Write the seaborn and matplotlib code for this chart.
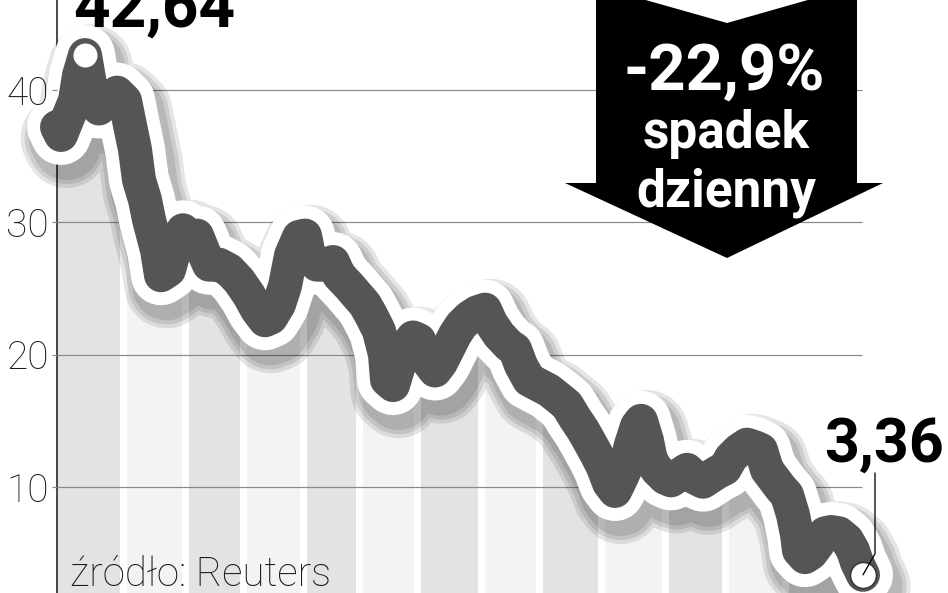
import matplotlib
matplotlib.use('Agg')
import matplotlib.pyplot as plt
import matplotlib.patheffects as pe
from matplotlib.patches import Polygon, Rectangle
import pandas as pd
import seaborn as sns


# trading day (from start of chart) and share price
days = [0, 2, 6, 9, 11, 14, 17, 21, 25, 30,
        34, 36, 39, 41, 44, 46, 50, 52, 56, 60,
        63, 66, 70, 74, 76, 81, 86, 91, 96, 100,
        104, 107, 111, 114, 117, 121, 124, 126, 130, 134,
        138, 141, 146, 150, 154, 157, 161, 164, 165, 168,
        171, 175, 178, 181, 185, 189, 192, 195, 199, 202,
        206, 210, 214, 217, 221, 226, 229, 232, 236, 241,
        246, 251, 255, 259, 263, 266, 270, 273, 276, 279,
        281, 284, 287, 290, 292, 295, 297, 300, 304, 307,
        311, 315, 319, 323, 326, 330, 334, 337, 341, 345,
        349, 352, 355, 359, 362, 365, 368, 370, 371, 374,
        377, 380, 384, 387, 391, 395, 398, 400, 403]
price = [37.2, 36.6, 38.1, 39.2, 41.1, 42.64, 40.0, 38.6, 39.2, 39.8,
         39.2, 37.7, 35.5, 33.2, 31.7, 30.2, 27.9, 26.0, 26.4, 28.6,
         29.4, 28.3, 29.0, 27.5, 26.8, 26.8, 26.4, 25.6, 24.5, 23.4,
         22.6, 22.8, 23.8, 25.2, 27.5, 28.9, 29.0, 27.5, 26.8, 26.8,
         27.0, 26.0, 25.2, 24.5, 23.8, 23.0, 21.8, 20.0, 18.1, 17.7,
         19.2, 20.7, 21.3, 21.1, 19.6, 18.8, 19.4, 20.3, 21.5, 22.2,
         22.8, 23.2, 23.4, 22.4, 21.5, 20.7, 20.4, 19.2, 18.1, 17.7,
         17.3, 16.7, 16.2, 15.2, 14.3, 13.5, 12.4, 11.5, 10.3, 9.7,
         10.3, 11.3, 13.2, 14.6, 15.0, 13.5, 12.0, 11.3, 10.7, 10.5,
         10.9, 11.3, 10.7, 10.4, 10.7, 11.1, 11.4, 12.2, 12.8, 13.2,
         13.0, 12.8, 11.3, 10.5, 9.9, 9.4, 7.9, 6.4, 5.2, 4.7,
         5.0, 5.6, 6.5, 6.6, 6.5, 6.0, 5.2, 4.3, 3.36]

# month boundaries (trading day) for the shaded bands
month_edges = [33, 64, 93, 123, 151, 180, 212, 241, 272, 304, 334, 364, 394]
yticks = [10, 20, 30, 40]
drop_lines = ['-22,9%', 'spadek', 'dzienny']
source = 'źródło: Reuters'

W, H = 948, 593
PT = 0.72  # pixels -> points at dpi 100

sns.set_theme(style='white')
plt.rcParams['font.family'] = ['Roboto', 'DejaVu Sans']

df = pd.DataFrame({'day': days, 'price': price})

fig = plt.figure(figsize=(W / 100, H / 100), dpi=100)
ax = fig.add_axes([57 / W, 0, 1 - 57 / W, 1])
ax.set_xlim(0, 445.5)
ax.set_ylim(1.99, 46.8)

# monthly bands filled under the curve
edges = [0] + month_edges + [days[-1] + 2]
for i in range(len(edges) - 1):
    a = edges[i] + (2 if i > 0 else 0)
    b = edges[i + 1] - 2
    band = ax.fill_between(df.day, 0, df.price, color=['#e3e3e3', '#f3f3f3'][i % 2],
                           lw=0, zorder=1)
    band.set_clip_path(Rectangle((a, 0), b - a, 60, transform=ax.transData))

ax.hlines(yticks, 0, days[-1] - 0.5, color='#8a8a8a', lw=1.2 * PT, zorder=2)

shadow = [pe.SimpleLineShadow(offset=(4, -8), shadow_color='black', alpha=0.1,
                              linewidth=w * PT) for w in (84, 76, 68)]
fx = shadow + [pe.Stroke(linewidth=60 * PT, foreground='white'), pe.Normal()]
sns.lineplot(data=df, x='day', y='price', color='#555555', linewidth=34 * PT, ax=ax,
             sort=False, estimator=None, legend=False, zorder=3, clip_on=False,
             solid_capstyle='round', solid_joinstyle='round', path_effects=fx)

peak = df.loc[df.price.idxmax()]
last = df.iloc[-1]
fmt = lambda v: f'{v:.2f}'.replace('.', ',')

ax.plot(peak.day, peak.price, 'o', ms=24 * PT, mfc='white', mew=0, zorder=4, clip_on=False)
ax.plot(last.day, last.price, 'o', ms=26 * PT, mfc='white', mec='#333333',
        mew=1.5 * PT, zorder=4, clip_on=False)
ax.plot([last.day, last.day + 6, last.day + 6],
        [last.price, last.price + 1.6, last.price + 7.7],
        color='black', lw=1.3 * PT, zorder=5, clip_on=False)

ax.set_xlabel('')
ax.set_ylabel('')
ax.set_xticks([])
ax.set_yticks(yticks)
ax.set_yticklabels([str(t) for t in yticks], fontsize=28, fontweight='light', color='#1a1a1a')
ax.tick_params(axis='y', left=True, length=5 * PT, width=1.2 * PT, color='#8a8a8a', pad=3 * PT)
ax.yaxis.set_zorder(6)  # keep tick labels above the line's white halo
for s in ['top', 'right', 'bottom']:
    ax.spines[s].set_visible(False)
ax.spines['left'].set_color('#111111')
ax.spines['left'].set_linewidth(1.5 * PT)

fig.text(73 / W, 1 - 27 / H, fmt(peak.price), fontsize=46, fontweight='bold',
         ha='left', va='baseline', color='black')
fig.text(824 / W, 1 - 462 / H, fmt(last.price), fontsize=44, fontweight='bold',
         ha='left', va='baseline', color='black')

# black down arrow with daily drop
arrow_px = [(596, -14), (727, 23), (857, -14), (857, 183), (883, 183),
            (727, 258), (565, 183), (596, 183)]
fig.add_artist(Polygon([(x / W, 1 - y / H) for x, y in arrow_px], closed=True,
                       transform=fig.transFigure, facecolor='black', edgecolor='none', zorder=2))
fig.text(724 / W, 1 - 90 / H, drop_lines[0], fontsize=47, fontweight='bold',
         ha='center', va='baseline', color='white', zorder=3)
fig.text(726 / W, 1 - 148 / H, drop_lines[1], fontsize=37, fontweight='bold',
         ha='center', va='baseline', color='white', zorder=3)
fig.text(726 / W, 1 - 207 / H, drop_lines[2], fontsize=37, fontweight='bold',
         ha='center', va='baseline', color='white', zorder=3)

fig.text(70 / W, 1 - 586 / H, source, fontsize=29, fontweight='light',
         ha='left', va='baseline', color='#1a1a1a')

fig.savefig('out.png', dpi=100)
